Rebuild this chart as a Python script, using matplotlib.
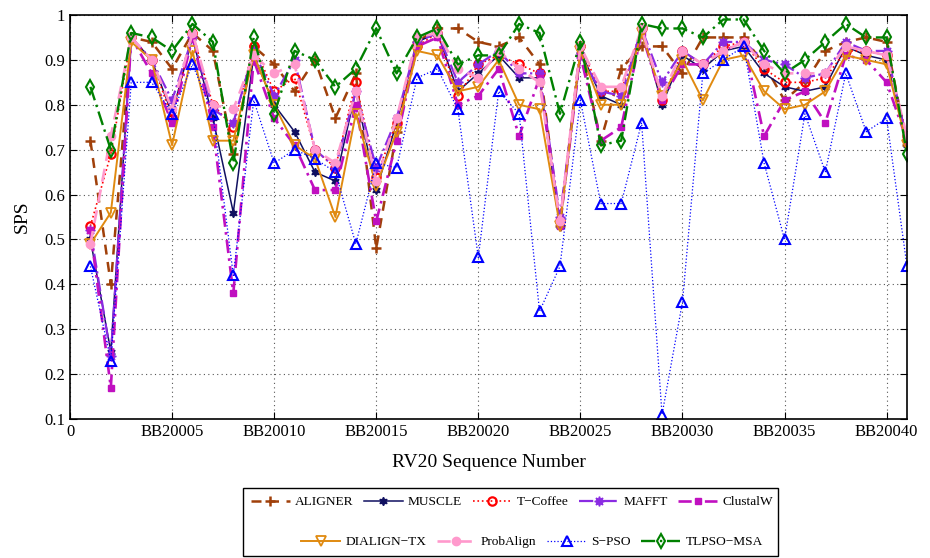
import matplotlib
matplotlib.use("Agg")
import matplotlib.pyplot as plt
from matplotlib.patches import Rectangle
import numpy as np

plt.rcParams['font.family'] = ['Liberation Serif', 'DejaVu Serif']

seq = list(range(1, 42))
xtick_pos = [0, 5, 10, 15, 20, 25, 30, 35, 40]
xtick_labels = ["0", "BB20005", "BB20010", "BB20015", "BB20020", "BB20025", "BB20030", "BB20035", "BB20040"]

aligner = [0.72, 0.40, 0.95, 0.94, 0.88, 0.96, 0.92, 0.69, 0.93, 0.89,
           0.83, 0.90, 0.77, 0.87, 0.48, 0.74, 0.94, 0.97, 0.97, 0.94,
           0.93, 0.95, 0.89, 0.53, 0.93, 0.72, 0.88, 0.93, 0.93, 0.87,
           0.95, 0.95, 0.95, 0.89, 0.81, 0.85, 0.92, 0.94, 0.95, 0.94, 0.71]
muscle = [0.50, 0.25, 0.95, 0.90, 0.78, 0.95, 0.77, 0.56, 0.91, 0.80,
          0.74, 0.65, 0.63, 0.83, 0.61, 0.76, 0.94, 0.96, 0.83, 0.87,
          0.91, 0.86, 0.86, 0.53, 0.92, 0.82, 0.80, 0.97, 0.80, 0.91,
          0.88, 0.92, 0.93, 0.87, 0.84, 0.83, 0.84, 0.93, 0.91, 0.90, 0.71]
tcoffee = [0.53, 0.69, 0.95, 0.90, 0.77, 0.96, 0.80, 0.75, 0.93, 0.83,
           0.86, 0.70, 0.66, 0.85, 0.64, 0.76, 0.93, 0.96, 0.82, 0.89,
           0.91, 0.89, 0.87, 0.54, 0.93, 0.83, 0.83, 0.97, 0.81, 0.92,
           0.89, 0.93, 0.94, 0.88, 0.85, 0.85, 0.86, 0.92, 0.92, 0.91, 0.73]
mafft = [0.52, 0.24, 0.95, 0.90, 0.81, 0.95, 0.79, 0.76, 0.92, 0.82,
         0.90, 0.70, 0.66, 0.83, 0.66, 0.77, 0.94, 0.96, 0.85, 0.89,
         0.92, 0.87, 0.87, 0.55, 0.91, 0.83, 0.82, 0.97, 0.85, 0.92,
         0.89, 0.94, 0.94, 0.90, 0.89, 0.86, 0.87, 0.94, 0.92, 0.92, 0.72]
clustalw = [0.52, 0.17, 0.95, 0.87, 0.76, 0.95, 0.75, 0.38, 0.90, 0.77,
            0.71, 0.61, 0.61, 0.80, 0.54, 0.72, 0.93, 0.95, 0.80, 0.82,
            0.88, 0.73, 0.86, 0.53, 0.91, 0.72, 0.75, 0.96, 0.81, 0.89,
            0.89, 0.92, 0.94, 0.73, 0.81, 0.83, 0.76, 0.91, 0.90, 0.85, 0.72]
dialign = [0.49, 0.56, 0.94, 0.90, 0.71, 0.92, 0.72, 0.72, 0.91, 0.80,
           0.71, 0.68, 0.55, 0.78, 0.62, 0.74, 0.92, 0.91, 0.83, 0.84,
           0.90, 0.80, 0.79, 0.53, 0.92, 0.80, 0.80, 0.96, 0.82, 0.90,
           0.81, 0.90, 0.91, 0.83, 0.79, 0.80, 0.83, 0.91, 0.90, 0.89, 0.71]
probalign = [0.49, 0.73, 0.95, 0.90, 0.79, 0.96, 0.80, 0.79, 0.91, 0.87,
             0.89, 0.70, 0.67, 0.83, 0.63, 0.77, 0.95, 0.96, 0.88, 0.86,
             0.92, 0.88, 0.85, 0.54, 0.93, 0.84, 0.84, 0.97, 0.82, 0.92,
             0.89, 0.92, 0.94, 0.89, 0.87, 0.87, 0.87, 0.93, 0.92, 0.91, 0.73]
spso = [0.44, 0.23, 0.85, 0.85, 0.78, 0.89, 0.78, 0.42, 0.81, 0.67,
        0.70, 0.68, 0.65, 0.49, 0.67, 0.66, 0.86, 0.88, 0.79, 0.46,
        0.83, 0.78, 0.34, 0.44, 0.81, 0.58, 0.58, 0.76, 0.11, 0.36,
        0.87, 0.90, 0.93, 0.67, 0.50, 0.78, 0.65, 0.87, 0.74, 0.77, 0.44]
tlpso = [0.84, 0.70, 0.96, 0.95, 0.92, 0.98, 0.94, 0.67, 0.95, 0.78,
         0.92, 0.90, 0.84, 0.88, 0.97, 0.87, 0.95, 0.97, 0.89, 0.91,
         0.91, 0.98, 0.96, 0.78, 0.94, 0.71, 0.72, 0.98, 0.97, 0.97,
         0.95, 0.99, 0.99, 0.92, 0.87, 0.90, 0.94, 0.98, 0.95, 0.95, 0.69]

fig = plt.figure(figsize=(9.3, 5.58), dpi=100)
ax = fig.add_axes([70/930, 1-419/558, (907-70)/930, (419-15)/558])

h = []
h += ax.plot(seq, aligner, color='#A0400A', ls=(0, (4, 3)), lw=1.8, marker='+', ms=7, mew=1.8, label='ALIGNER')
h += ax.plot(seq, muscle, color='#101060', ls='-', lw=1.1, marker=(6, 1, 0), ms=6, mfc='#101060', label='MUSCLE')
h += ax.plot(seq, tcoffee, color='red', ls=':', lw=1.2, marker='o', ms=6, mfc='none', mew=1.6, label='T\u2212Coffee')
h += ax.plot(seq, mafft, color='#8A2BE2', ls='-.', lw=1.6, marker=(8, 1, 0), ms=7, mfc='#8A2BE2', label='MAFFT')
h += ax.plot(seq, clustalw, color='#C010C0', ls=(0, (5, 2, 1, 2)), lw=1.9, marker='s', ms=4.5, mfc='#C010C0', label='ClustalW')
h += ax.plot(seq, dialign, color='#E08A10', ls='-', lw=1.4, marker='v', ms=7, mfc='none', mew=1.3, label='DIALIGN\u2212TX')
h += ax.plot(seq, probalign, color='#FF99CC', ls=(0, (5, 3)), lw=1.9, marker='o', ms=6, mfc='#FF99CC', label='ProbAlign')
h += ax.plot(seq, spso, color='blue', ls=':', lw=0.9, marker='^', ms=7, mfc='none', mew=1.5, label='S\u2212PSO')
h += ax.plot(seq, tlpso, color='#008000', ls=(0, (6, 2, 1, 2)), lw=1.7, marker='d', ms=7, mfc='none', mew=1.5, label='TLPSO\u2212MSA')

ax.set_xlim(0, 41)
ax.set_ylim(0.1, 1.0)
ax.set_xticks(xtick_pos)
ax.set_xticklabels(xtick_labels)
yt = [0.1, 0.2, 0.3, 0.4, 0.5, 0.6, 0.7, 0.8, 0.9, 1.0]
ax.set_yticks(yt)
ax.set_yticklabels(["0.1", "0.2", "0.3", "0.4", "0.5", "0.6", "0.7", "0.8", "0.9", "1"])
ax.tick_params(direction='in', top=True, right=True, labelsize=12, length=5)
ax.grid(True, ls=(0, (1, 3)), color='#555555', lw=0.8)
for s in ax.spines.values():
    s.set_linewidth(1.2)
ax.set_xlabel('RV20 Sequence Number', fontsize=14, labelpad=10)
ax.set_ylabel('SPS', fontsize=14, labelpad=10)

kw = dict(loc='center', frameon=False, fontsize=9.6, handlelength=2.9, columnspacing=0.8,
          handletextpad=0.4, borderpad=0)
fig.legend(handles=h[:5], bbox_to_anchor=(512/930, 1-502/558), ncol=5, **kw)
fig.legend(handles=h[5:], bbox_to_anchor=(532/930, 1-542/558), ncol=4, **kw)
rect = Rectangle((243/930, 1-556/558), (778-243)/930, (556-488)/558, transform=fig.transFigure,
                 fill=False, edgecolor='black', lw=1.0)
fig.add_artist(rect)

fig.savefig('out.png', dpi=100)
